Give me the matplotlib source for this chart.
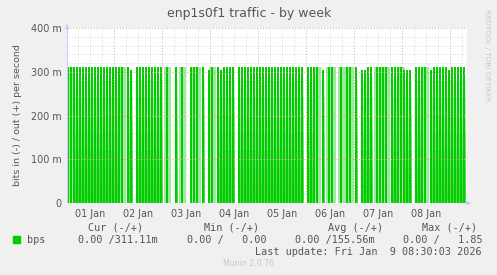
import matplotlib as mpl

mpl.use("Agg")
import matplotlib.pyplot as plt

# colours (munin / rrdtool defaults)
BG = "#f0f0f0"
TEXT = "#555555"
FAINT = "#c8c8c8"
GREEN = "#00cc00"
GREEN_LIGHT = "#9fe89f"
MINOR = "#d0d0d0"
MAJOR = "#eaa0a0"
AXIS = "#c8ccf0"

# one code per 1.5 h step (left -> right)
# H = peak, h = peak with faint fill, d = slightly lower peak, 0 = idle
STEP_CODES = (
    "HhHHHHHHHH" "HHHHHHHHh0" "Hd0HHHHHHH" "HH0h00H0h0" "0Hhh0H0dh0"
    "HdHHHH0HHH" "HHHHHHHHHH" "HHHHHHHHH0" "HHHh0d0hh0" "0h0hh0H0dd"
    "HH0hHhh0HH" "Hhddd0HHHh" "0dHHHHHdHH" "HHH"
)
CODE_VALUE = {"H": 311.11, "h": 311.11, "d": 305.0, "0": 0.0}
STEP_HOURS = 1.5
START_HOUR = 0.5     # hours after 01 Jan 00:00
END_HOUR = 200.5     # 09 Jan 08:30

Y_TICKS = [0, 100, 200, 300, 400]
Y_LABELS = ["0", "100 m", "200 m", "300 m", "400 m"]
DAY_LABELS = ["01 Jan", "02 Jan", "03 Jan", "04 Jan", "05 Jan", "06 Jan", "07 Jan", "08 Jan"]

STAT_NAMES = ["Cur (-/+)", "Min (-/+)", "Avg (-/+)", "Max (-/+)"]
STAT_VALUES = ["0.00 /311.11m", "0.00 /   0.00", "0.00 /155.56m", "0.00 /   1.85"]

W, H, DPI = 497, 275, 100
fig = plt.figure(figsize=(W / DPI, H / DPI), dpi=DPI, facecolor=BG)
x0, x1, y0, y1 = 67, 467, 28, 203
ax = fig.add_axes([x0 / W, 1 - y1 / H, (x1 - x0) / W, (y1 - y0) / H])
ax.set_facecolor("white")
ax.set_xlim(START_HOUR, END_HOUR)
ax.set_ylim(0, 400)

# grid
for v in range(0, 401, 20):
    if v % 100:
        ax.axhline(v, color=MINOR, lw=0.6, ls=(0, (1, 2)), zorder=1)
for h in range(6, 200, 6):
    if h % 24:
        ax.axvline(h, color=MINOR, lw=0.6, ls=(0, (1, 2)), zorder=1)

# data
for i, c in enumerate(STEP_CODES):
    left = START_HOUR + i * STEP_HOURS
    val = CODE_VALUE[c]
    if val <= 0:
        continue
    if c == "h":
        ax.bar(left - 1.0, val, width=STEP_HOURS + 2.0, align="edge",
               color=GREEN_LIGHT, lw=0, zorder=2.5)
    # gap shading fades out towards the top
    for top in (40, 80, 120, 160, 200, 240, 280):
        ax.bar(left, top, width=STEP_HOURS, align="edge", color=GREEN,
               alpha=0.16, lw=0, zorder=2)
    ax.bar(left, val, width=1.0, align="edge", color=GREEN, lw=0, zorder=3)

for v in Y_TICKS[1:]:
    ax.axhline(v, color=MAJOR, lw=0.7, ls=(0, (1, 2)), zorder=4)
for d in range(1, 9):
    ax.axvline(24 * d, color=MAJOR, lw=0.7, ls=(0, (1, 2)), zorder=4)

for s in ax.spines.values():
    s.set_visible(False)
ax.axhline(0, color=AXIS, lw=0.8, zorder=5)
ax.axvline(START_HOUR, color=AXIS, lw=0.8, zorder=5)
ax.annotate("", xy=(START_HOUR, 415), xytext=(START_HOUR, 398),
            arrowprops=dict(arrowstyle="-|>", color=AXIS, lw=0.8, mutation_scale=6),
            annotation_clip=False)
ax.annotate("", xy=(END_HOUR + 3.5, 0), xytext=(END_HOUR - 1, 0),
            arrowprops=dict(arrowstyle="-|>", color=AXIS, lw=0.8, mutation_scale=6),
            annotation_clip=False)

ax.set_yticks(Y_TICKS)
ax.set_yticklabels(Y_LABELS)
ax.set_xticks([24 * d + 12 for d in range(8)])
ax.set_xticklabels(DAY_LABELS)
ax.tick_params(length=0, colors=TEXT, labelsize=6.9, pad=4)

ax.set_ylabel("bits in (-) / out (+) per second", color=TEXT, fontsize=6.8, labelpad=6)
fig.text(249 / W, 1 - 13 / H, "enp1s0f1 traffic - by week",
         ha="center", va="center", color=TEXT, fontsize=9.0)
fig.text(487 / W, 1 - 55 / H, "RRDTOOL / TOBI OETIKER", rotation=270,
         ha="center", va="center", color=FAINT, fontsize=5.2)

# legend block
mono = "DejaVu Sans Mono"
centres = [116, 232, 356, 450]
for cx, name in zip(centres, STAT_NAMES):
    fig.text(cx / W, 1 - 228 / H, name, ha="center", va="center",
             family=mono, color=TEXT, fontsize=7.3)
starts = [78, 187, 295, 403]
for sx, val in zip(starts, STAT_VALUES):
    fig.text(sx / W, 1 - 240 / H, val, ha="left", va="center",
             family=mono, color=TEXT, fontsize=7.3)
fig.patches.append(plt.Rectangle((13 / W, 1 - 243 / H), 7 / W, 7 / H,
                                 transform=fig.transFigure, color=GREEN))
fig.text(27 / W, 1 - 240 / H, "bps", ha="left", va="center",
         family=mono, color=TEXT, fontsize=7.3)
fig.text(482 / W, 1 - 252 / H, "Last update: Fri Jan  9 08:30:03 2026",
         ha="right", va="center", family=mono, color=TEXT, fontsize=7.3)
fig.text(248 / W, 1 - 264 / H, "Munin 2.0.76", ha="center", va="center",
         color=FAINT, fontsize=5.6)

fig.savefig("out.png", dpi=DPI, facecolor=BG)
